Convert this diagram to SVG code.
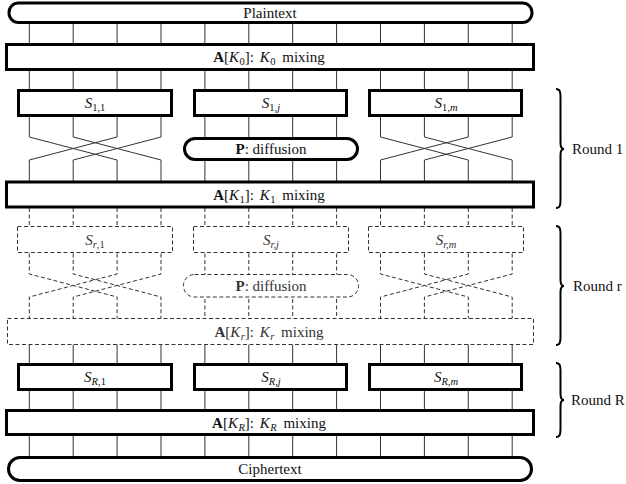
<svg xmlns="http://www.w3.org/2000/svg" width="626" height="484" viewBox="0 0 626 484">
<style>
text{font-family:"Liberation Serif","Times New Roman",serif;font-size:15px;fill:#111;}
.lbl{text-anchor:middle;}
.sub{font-size:10.5px;}
.it{font-style:italic;}
.bf{font-weight:bold;}
.box{fill:#fff;stroke:#000;stroke-width:3;}
.dbox{fill:#fff;stroke:#333;stroke-width:1;stroke-dasharray:4 2.5;}
.wire{fill:none;stroke:#333;stroke-width:1;}
.dwire{fill:none;stroke:#333;stroke-width:1;stroke-dasharray:4 2.5;}
.brace{fill:none;stroke:#000;stroke-width:2;}
.dt{fill:#333;}
</style>
<g id="connectors">
<path class="wire" d="M29.3,23V137L117.1,160V208M73.2,23V137L161,160V208M117.1,23V137L29.3,160V208M161,23V137L73.2,160V208M204.9,23V208M248.8,23V208M292.7,23V208M336.6,23V208M380.5,23V137L468.3,160V208M424.4,23V137L512.2,160V208M468.3,23V137L380.5,160V208M512.2,23V137L424.4,160V208"/>
<path class="dwire" d="M29.3,208V274L117.1,297V345M73.2,208V274L161,297V345M117.1,208V274L29.3,297V345M161,208V274L73.2,297V345M204.9,208V345M248.8,208V345M292.7,208V345M336.6,208V345M380.5,208V274L468.3,297V345M424.4,208V274L512.2,297V345M468.3,208V274L380.5,297V345M512.2,208V274L424.4,297V345"/>
<path class="wire" d="M29.3,345V457M73.2,345V457M117.1,345V457M161,345V457M204.9,345V457M248.8,345V457M292.7,345V457M336.6,345V457M380.5,345V457M424.4,345V457M468.3,345V457M512.2,345V457"/>
</g>
<g id="plaintext"><rect class="box" x="9" y="3" width="523" height="19.5" rx="9.5"/><text class="lbl" x="270" y="17.5">Plaintext</text></g>
<g id="mix0"><rect class="box" x="6.5" y="44.5" width="527" height="25"/><text class="lbl" x="269" y="62"><tspan class="bf">A</tspan>[<tspan class="it">K</tspan><tspan class="sub" dy="3" dx="0.5">0</tspan><tspan dy="-3">]: </tspan><tspan class="it" dx="2">K</tspan><tspan class="sub" dy="3" dx="0.5">0</tspan><tspan dy="-3" dx="3"> mixing</tspan></text></g>
<g id="s11"><rect class="box" x="18.5" y="90.5" width="153" height="25"/><text class="lbl" x="95" y="108"><tspan class="it">S</tspan><tspan class="sub" dy="3">1,1</tspan></text></g>
<g id="s1j"><rect class="box" x="194.5" y="90.5" width="152" height="25"/><text class="lbl" x="271" y="108"><tspan class="it">S</tspan><tspan class="sub" dy="3">1,<tspan class="it">j</tspan></tspan></text></g>
<g id="s1m"><rect class="box" x="369.5" y="90.5" width="152" height="25"/><text class="lbl" x="446" y="108"><tspan class="it">S</tspan><tspan class="sub" dy="3">1,<tspan class="it">m</tspan></tspan></text></g>
<g id="p1"><rect class="box" x="184.5" y="138.5" width="173" height="21" rx="10.5"/><text class="lbl" x="271" y="154"><tspan class="bf">P</tspan>: diffusion</text></g>
<g id="mix1"><rect class="box" x="6.5" y="182" width="527" height="25"/><text class="lbl" x="269" y="199.5"><tspan class="bf">A</tspan>[<tspan class="it">K</tspan><tspan class="sub" dy="3" dx="0.5">1</tspan><tspan dy="-3">]: </tspan><tspan class="it" dx="2">K</tspan><tspan class="sub" dy="3" dx="0.5">1</tspan><tspan dy="-3" dx="3"> mixing</tspan></text></g>
<g id="sr1"><rect class="dbox" x="17.5" y="226.5" width="155" height="26"/><text class="lbl dt" x="95" y="244.5"><tspan class="it">S</tspan><tspan class="sub" dy="3"><tspan class="it">r</tspan>,1</tspan></text></g>
<g id="srj"><rect class="dbox" x="193.5" y="226.5" width="155" height="26"/><text class="lbl dt" x="271" y="244.5"><tspan class="it">S</tspan><tspan class="sub it" dy="3">r,j</tspan></text></g>
<g id="srm"><rect class="dbox" x="368.5" y="226.5" width="155" height="26"/><text class="lbl dt" x="446" y="244.5"><tspan class="it">S</tspan><tspan class="sub it" dy="3">r,m</tspan></text></g>
<g id="pr"><rect class="dbox" x="183.5" y="274.5" width="175" height="22.5" rx="11"/><text class="lbl dt" x="271" y="290.5"><tspan class="bf">P</tspan>: diffusion</text></g>
<g id="mixr"><rect class="dbox" x="7.5" y="318.5" width="526" height="26"/><text class="lbl dt" x="269" y="336.5"><tspan class="bf">A</tspan>[<tspan class="it">K</tspan><tspan class="sub it" dy="3" dx="0.5">r</tspan><tspan dy="-3">]: </tspan><tspan class="it" dx="2">K</tspan><tspan class="sub it" dy="3" dx="0.5">r</tspan><tspan dy="-3" dx="3"> mixing</tspan></text></g>
<g id="sR1"><rect class="box" x="18.5" y="364.5" width="153" height="25"/><text class="lbl" x="95" y="382"><tspan class="it">S</tspan><tspan class="sub" dy="3"><tspan class="it">R</tspan>,1</tspan></text></g>
<g id="sRj"><rect class="box" x="194.5" y="364.5" width="152" height="25"/><text class="lbl" x="271" y="382"><tspan class="it">S</tspan><tspan class="sub it" dy="3">R,j</tspan></text></g>
<g id="sRm"><rect class="box" x="369.5" y="364.5" width="152" height="25"/><text class="lbl" x="446" y="382"><tspan class="it">S</tspan><tspan class="sub it" dy="3">R,m</tspan></text></g>
<g id="mixR"><rect class="box" x="6.5" y="410.5" width="527" height="24"/><text class="lbl" x="269" y="427.5"><tspan class="bf">A</tspan>[<tspan class="it">K</tspan><tspan class="sub it" dy="3" dx="0.5">R</tspan><tspan dy="-3">]: </tspan><tspan class="it" dx="2">K</tspan><tspan class="sub it" dy="3" dx="0.5">R</tspan><tspan dy="-3" dx="3"> mixing</tspan></text></g>
<g id="ciphertext"><rect class="box" x="8.5" y="457.5" width="523" height="23" rx="11.5"/><text class="lbl" x="270" y="474">Ciphertext</text></g>
<g id="round1"><path class="brace" d="M556,89C560,89 560.5,92 560.5,97L560.5,143C560.5,147 562,149 564,149C562,149 560.5,151 560.5,155L560.5,200C560.5,205 560,208 556,208"/><text x="572" y="154">Round 1</text></g>
<g id="roundr"><path class="brace" d="M556,226C560,226 560.5,229 560.5,234L560.5,280C560.5,284 562,286 564,286C562,286 560.5,288 560.5,292L560.5,337C560.5,342 560,345 556,345"/><text x="573" y="291">Round r</text></g>
<g id="roundR"><path class="brace" d="M556,363C560,363 560.5,366 560.5,371L560.5,394C560.5,398 562,400 564,400C562,400 560.5,402 560.5,406L560.5,429C560.5,434 560,437 556,437"/><text x="571" y="405">Round R</text></g>
</svg>
